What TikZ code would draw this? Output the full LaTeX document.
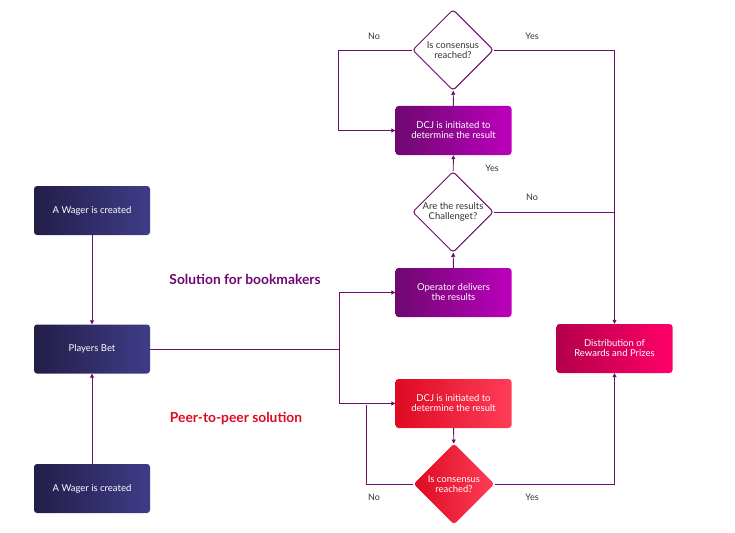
\documentclass[tikz,border=0pt]{standalone}
\usepackage{fontspec}
\setmainfont{Lato}
\usetikzlibrary{shapes.geometric,arrows.meta}
\definecolor{lineC}{HTML}{6B0F6B}
\definecolor{navyA}{HTML}{231E48}
\definecolor{navyB}{HTML}{3F3C88}
\definecolor{purA}{HTML}{6E0870}
\definecolor{purB}{HTML}{BC00BC}
\definecolor{redA}{HTML}{DE0A22}
\definecolor{redB}{HTML}{FF3D58}
\definecolor{pinkA}{HTML}{B5004A}
\definecolor{pinkB}{HTML}{FF0068}
\definecolor{txtC}{HTML}{333333}
\begin{document}
\begin{tikzpicture}[x=1pt,y=-1pt,
  box/.style={rounded corners=3pt, minimum width=116pt, minimum height=49pt, inner sep=0pt,
    text=white, align=center, font=\fontsize{9.5}{10}\selectfont},
  navy/.style={box, left color=navyA, right color=navyB},
  purp/.style={box, left color=purA, right color=purB},
  redbox/.style={box, left color=redA, right color=redB},
  pinkbox/.style={box, left color=pinkA, right color=pinkB},
  dec/.style={diamond, aspect=1, minimum size=81pt, inner sep=0pt, align=center,
    rounded corners=3pt, font=\fontsize{9.5}{10}\selectfont},
  decw/.style={dec, draw=lineC, line width=1pt, fill=white, text=txtC},
  decr/.style={dec, left color=redA, right color=redB, text=white},
  ln/.style={draw=lineC, line width=0.9pt},
  arr/.style={ln, -{Triangle[width=4pt,length=4pt]}},
  lab/.style={text=txtC, font=\fontsize{9}{10}\selectfont},
  head/.style={font=\bfseries\fontsize{13.8}{15}\selectfont}
]
\useasboundingbox (0,0) rectangle (735,532);

\node[navy] (w1) at (92,210.5) {A Wager is created};
\node[navy] (pb) at (92,349) {Players Bet};
\node[navy] (w2) at (92,488.5) {A Wager is created};

\node[decw] (d1) at (453,50) {Is consensus\\reached?};
\node[purp] (dcj1) at (453.5,130.5) {DCJ is initiated to\\determine the result};
\node[decw] (d2) at (453,212) {Are the results\\Challenget?};
\node[purp] (op) at (453.5,292.5) {Operator delivers\\the results};
\node[redbox] (dcj2) at (453.5,403.5) {DCJ is initiated to\\determine the result};
\node[decr] (d3) at (454,484) {Is consensus\\reached?};
\node[pinkbox] (dist) at (614.5,348.5) {Distribution of\\Rewards and Prizes};

\node[head, text=purA] (h1) at (245,279) {Solution for bookmakers};
\node[head, text=redA] (h2) at (236,419) {Peer-to-peer solution};

\coordinate (j) at (339,349);
\coordinate (c1) at (338,50);
\coordinate (c2) at (614,212);
\coordinate (c3) at (366,405);

\draw[arr] (w1) -- (pb);
\draw[arr] (w2) -- (pb);
\draw[ln] (pb) -- (j);
\draw[arr] (j) |- (op.west);
\draw[arr] (j) |- (dcj2.west);
\draw[arr] (op) -- (d2);
\draw[arr] (d2) -- (dcj1);
\draw[arr] (dcj1) -- (d1);
\draw[arr] (d1.west) -- (c1) |- (dcj1.west);
\draw[arr] (d1.east) -| (dist.north);
\draw[ln] (d2.east) -- (c2);
\draw[arr] (dcj2) -- (d3);
\draw[ln] (d3.west) -| (c3);
\draw[arr] (d3.east) -| (dist.south);

\node[lab] (n1) at (374,36) {No};
\node[lab] (y1) at (532,36) {Yes};
\node[lab] (y2) at (492,168) {Yes};
\node[lab] (n2) at (532,197) {No};
\node[lab] (n3) at (374,497) {No};
\node[lab] (y3) at (532,497) {Yes};
\end{tikzpicture}
\end{document}
